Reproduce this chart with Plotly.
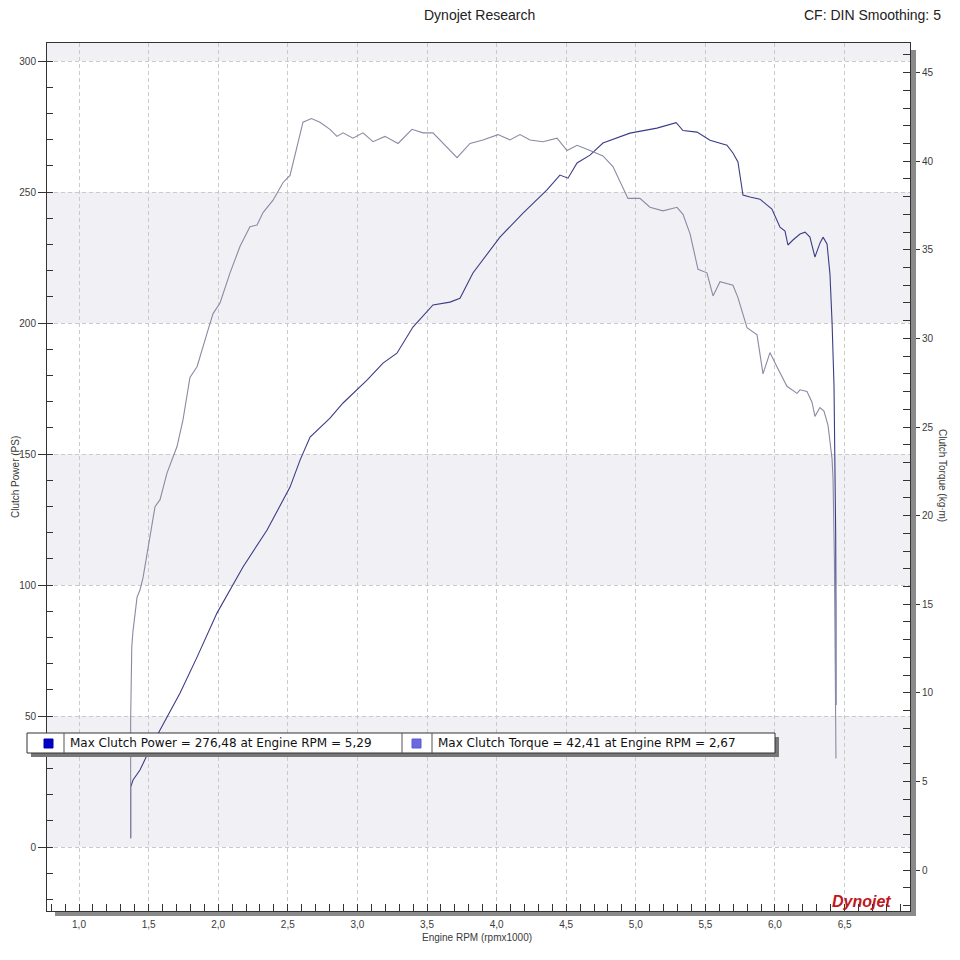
import plotly.graph_objects as go

# ---------------- data ----------------
power_rpm = [1.371, 1.371, 1.388, 1.438, 1.496, 1.582, 1.726, 1.848, 1.991, 2.121, 2.178,
             2.351, 2.516, 2.588, 2.660, 2.803, 2.897, 3.069, 3.184, 3.284, 3.399, 3.543,
             3.665, 3.737, 3.830, 4.024, 4.190, 4.362, 4.455, 4.513, 4.578, 4.671, 4.764,
             4.958, 5.152, 5.290, 5.339, 5.440, 5.533, 5.655, 5.698, 5.734, 5.770, 5.820,
             5.892, 5.978, 6.036, 6.072, 6.093, 6.129, 6.180, 6.216, 6.251, 6.287, 6.323,
             6.345, 6.374, 6.395, 6.410, 6.424, 6.431, 6.436, 6.438, 6.438, 6.438]
power_ps = [3.4, 22.9, 25.6, 29.4, 35.9, 44.7, 58.8, 72.5, 89.3, 101.9, 106.9,
            121.0, 137.4, 147.7, 156.5, 163.7, 169.5, 178.2, 184.7, 188.5, 198.5, 206.9,
            208.0, 209.5, 219.1, 232.8, 242.0, 250.8, 256.5, 255.3, 261.1, 264.1, 268.7,
            272.5, 274.4, 276.48, 273.5, 272.9, 269.8, 267.9, 264.9, 261.5, 248.9, 248.1,
            247.3, 243.5, 236.6, 235.1, 229.8, 231.7, 234.0, 234.7, 232.8, 225.2, 230.5,
            232.8, 230.2, 218.7, 200.4, 176.3, 148.1, 119.8, 91.6, 63.4, 54.2]

torque_rpm = [1.371, 1.371, 1.379, 1.388, 1.417, 1.438, 1.460, 1.510, 1.546, 1.582, 1.632,
              1.704, 1.747, 1.797, 1.848, 1.920, 1.963, 2.013, 2.085, 2.157, 2.228, 2.279,
              2.322, 2.394, 2.466, 2.516, 2.566, 2.609, 2.670, 2.731, 2.803, 2.853, 2.897,
              2.968, 3.040, 3.112, 3.198, 3.292, 3.392, 3.471, 3.543, 3.665, 3.716, 3.809,
              3.902, 4.010, 4.096, 4.168, 4.240, 4.333, 4.434, 4.506, 4.578, 4.671, 4.764,
              4.836, 4.908, 4.944, 5.030, 5.102, 5.195, 5.296, 5.339, 5.390, 5.447, 5.511,
              5.555, 5.605, 5.698, 5.734, 5.799, 5.871, 5.914, 5.964, 6.014, 6.086, 6.158,
              6.180, 6.230, 6.266, 6.287, 6.323, 6.352, 6.381, 6.410, 6.417, 6.427, 6.434,
              6.438]
torque_kgm = [1.8, 8.5, 12.6, 13.5, 15.4, 15.8, 16.5, 18.8, 20.5, 20.9, 22.4,
              23.9, 25.4, 27.8, 28.4, 30.3, 31.4, 32.0, 33.7, 35.2, 36.3, 36.4,
              37.1, 37.8, 38.8, 39.2, 40.8, 42.2, 42.41, 42.2, 41.8, 41.4, 41.6,
              41.3, 41.6, 41.1, 41.4, 41.0, 41.8, 41.6, 41.6, 40.6, 40.2, 41.0,
              41.2, 41.5, 41.2, 41.5, 41.2, 41.1, 41.3, 40.6, 40.9, 40.6, 40.3,
              39.7, 38.5, 37.9, 37.9, 37.4, 37.2, 37.4, 37.0, 35.9, 33.9, 33.7,
              32.4, 33.2, 33.0, 32.3, 30.6, 30.2, 28.0, 29.2, 28.4, 27.3, 26.9,
              27.1, 27.0, 26.4, 25.6, 26.1, 25.9, 25.1, 23.2, 22.1, 17.5, 12.4,
              6.3]

x_tick_vals = [1.0, 1.5, 2.0, 2.5, 3.0, 3.5, 4.0, 4.5, 5.0, 5.5, 6.0, 6.5]
x_tick_text = ["1,0", "1,5", "2,0", "2,5", "3,0", "3,5", "4,0", "4,5", "5,0", "5,5", "6,0", "6,5"]
ps_ticks = [0, 50, 100, 150, 200, 250, 300]
tq_ticks = [0, 5, 10, 15, 20, 25, 30, 35, 40, 45]

title_text = "Dynojet Research"
cf_text = "CF: DIN Smoothing: 5"
legend_power = "Max Clutch Power = 276,48 at Engine RPM = 5,29"
legend_torque = "Max Clutch Torque = 42,41 at Engine RPM = 2,67"

# ---------------- layout geometry ----------------
# the page body has an 8px margin, so the figure is drawn 8px in from the window corner
OFF = 8
W, H = 944, 944
PL, PT, PR, PB = 47, 43, 910, 911          # plot area in window pixels
L, T = PL - OFF, PT - OFF
R, B = W - (PR - OFF), H - (PB - OFF)
PW, PH = W - L - R, H - T - B


def px(x):
    return (x - OFF - L) / PW


def py(y):
    return (H - B - (y - OFF)) / PH


FONT = "Liberation Sans, Arial, sans-serif"
LFONT = "DejaVu Sans, Verdana, sans-serif"
DARK = "#3a3a3a"
GRID = "#cacaca"

fig = go.Figure()
fig.add_trace(go.Scatter(x=power_rpm, y=power_ps, mode="lines", yaxis="y",
                         line=dict(color="#3c3c86", width=1.1), showlegend=False))
fig.add_trace(go.Scatter(x=torque_rpm, y=torque_kgm, mode="lines", yaxis="y2",
                         line=dict(color="#8a8aa4", width=1.1), showlegend=False))

shapes = []
# alternating background bands (every other 50 PS interval)
for i in range(0, len(ps_ticks), 2):
    lo = ps_ticks[i]
    shapes.append(dict(type="rect", xref="paper", yref="y", x0=0, x1=1, y0=lo, y1=lo + 50,
                       fillcolor="#f1f1f5", line=dict(width=0), layer="below"))
shapes.append(dict(type="rect", xref="paper", yref="y", x0=0, x1=1, y0=300, y1=400,
                   fillcolor="#f1f1f5", line=dict(width=0), layer="below"))
# frame shadow (right and bottom)
shapes.append(dict(type="rect", xref="paper", yref="paper", x0=px(911), x1=px(916),
                   y0=py(916), y1=py(50), fillcolor="#8a8a8a", line=dict(width=0)))
shapes.append(dict(type="rect", xref="paper", yref="paper", x0=px(55), x1=px(916),
                   y0=py(916), y1=py(912), fillcolor="#8a8a8a", line=dict(width=0)))

# custom legend box
lx0, lx1, ly0, ly1 = 27, 775, 733, 753
shapes.append(dict(type="rect", xref="paper", yref="paper", x0=px(lx0 + 4), x1=px(lx1 + 4),
                   y0=py(ly1 + 4), y1=py(ly0 + 4), fillcolor="#777777", line=dict(width=0)))
shapes.append(dict(type="rect", xref="paper", yref="paper", x0=px(lx0), x1=px(lx1),
                   y0=py(ly1), y1=py(ly0), fillcolor="#ffffff", line=dict(color="#333333", width=1)))
for xdiv in (64, 402, 432):
    shapes.append(dict(type="line", xref="paper", yref="paper", x0=px(xdiv), x1=px(xdiv),
                       y0=py(ly1), y1=py(ly0), line=dict(color="#555555", width=1)))
shapes.append(dict(type="rect", xref="paper", yref="paper", x0=px(44), x1=px(53),
                   y0=py(748), y1=py(739), fillcolor="#0000c8", line=dict(color="#0000a0", width=1)))
shapes.append(dict(type="rect", xref="paper", yref="paper", x0=px(412), x1=px(421),
                   y0=py(748), y1=py(739), fillcolor="#6a6ae0", line=dict(color="#5a5ad0", width=1)))

annotations = [
    dict(text=title_text, x=px(480), y=py(15), xref="paper", yref="paper", showarrow=False,
         xanchor="center", yanchor="middle", font=dict(family=FONT, size=14, color="#222222")),
    dict(text=cf_text, x=px(943), y=py(15), xref="paper", yref="paper", showarrow=False,
         xanchor="right", yanchor="middle", font=dict(family=FONT, size=14, color="#222222")),
    dict(text="Clutch Power (PS)", x=px(15), y=py(477), xref="paper", yref="paper", showarrow=False,
         textangle=-90, xanchor="center", yanchor="middle", font=dict(family=FONT, size=10, color=DARK)),
    dict(text="Clutch Torque (kg·m)", x=px(942), y=py(475), xref="paper", yref="paper", showarrow=False,
         textangle=90, xanchor="center", yanchor="middle", font=dict(family=FONT, size=10, color=DARK)),
    dict(text="Engine RPM (rpmx1000)", x=px(477), y=py(937), xref="paper", yref="paper", showarrow=False,
         xanchor="center", yanchor="middle", font=dict(family=FONT, size=10, color=DARK)),
    dict(text=legend_power, x=px(68), y=py(743), xref="paper", yref="paper", showarrow=False,
         xanchor="left", yanchor="middle", font=dict(family=LFONT, size=12, color="#111111")),
    dict(text=legend_torque, x=px(436), y=py(743), xref="paper", yref="paper", showarrow=False,
         xanchor="left", yanchor="middle", font=dict(family=LFONT, size=12, color="#111111")),
    dict(text="<b><i>Dynojet</i></b>", x=px(861), y=py(901), xref="paper", yref="paper", showarrow=False,
         xanchor="center", yanchor="middle", font=dict(family=FONT, size=16, color="#c01820")),
]

axis_common = dict(showline=True, linecolor="#333333", linewidth=1, zeroline=False,
                   tickfont=dict(family=FONT, size=10, color=DARK), tickcolor="#333333")

fig.update_layout(
    width=W, height=H, margin=dict(l=L, r=R, t=T, b=B, autoexpand=False),
    paper_bgcolor="#ffffff", plot_bgcolor="#ffffff",
    showlegend=False, shapes=shapes, annotations=annotations,
    xaxis=dict(range=[0.770, 6.970], tickmode="array", tickvals=x_tick_vals, ticktext=x_tick_text,
               ticks="outside", ticklen=4, mirror=True,
               showgrid=True, gridcolor=GRID, griddash="4px,3px", gridwidth=1,
               minor=dict(dtick=0.1, tick0=0, ticks="inside", ticklen=7, tickcolor="#333333", showgrid=False),
               **axis_common),
    yaxis=dict(range=[-24.4, 306.9], tickmode="array", tickvals=ps_ticks,
               ticks="outside", ticklen=8, mirror=False,
               showgrid=True, gridcolor=GRID, griddash="4px,3px", gridwidth=1,
               minor=dict(dtick=10, tick0=0, ticks="inside", ticklen=6, tickcolor="#333333", showgrid=False),
               **axis_common),
    yaxis2=dict(range=[-2.31, 46.67], overlaying="y", side="right", tickmode="array", tickvals=tq_ticks,
                ticks="outside", ticklen=9, showgrid=False,
                minor=dict(dtick=1, tick0=0, ticks="inside", ticklen=7, tickcolor="#333333", showgrid=False),
                **axis_common),
)

fig.write_html("out.html")
